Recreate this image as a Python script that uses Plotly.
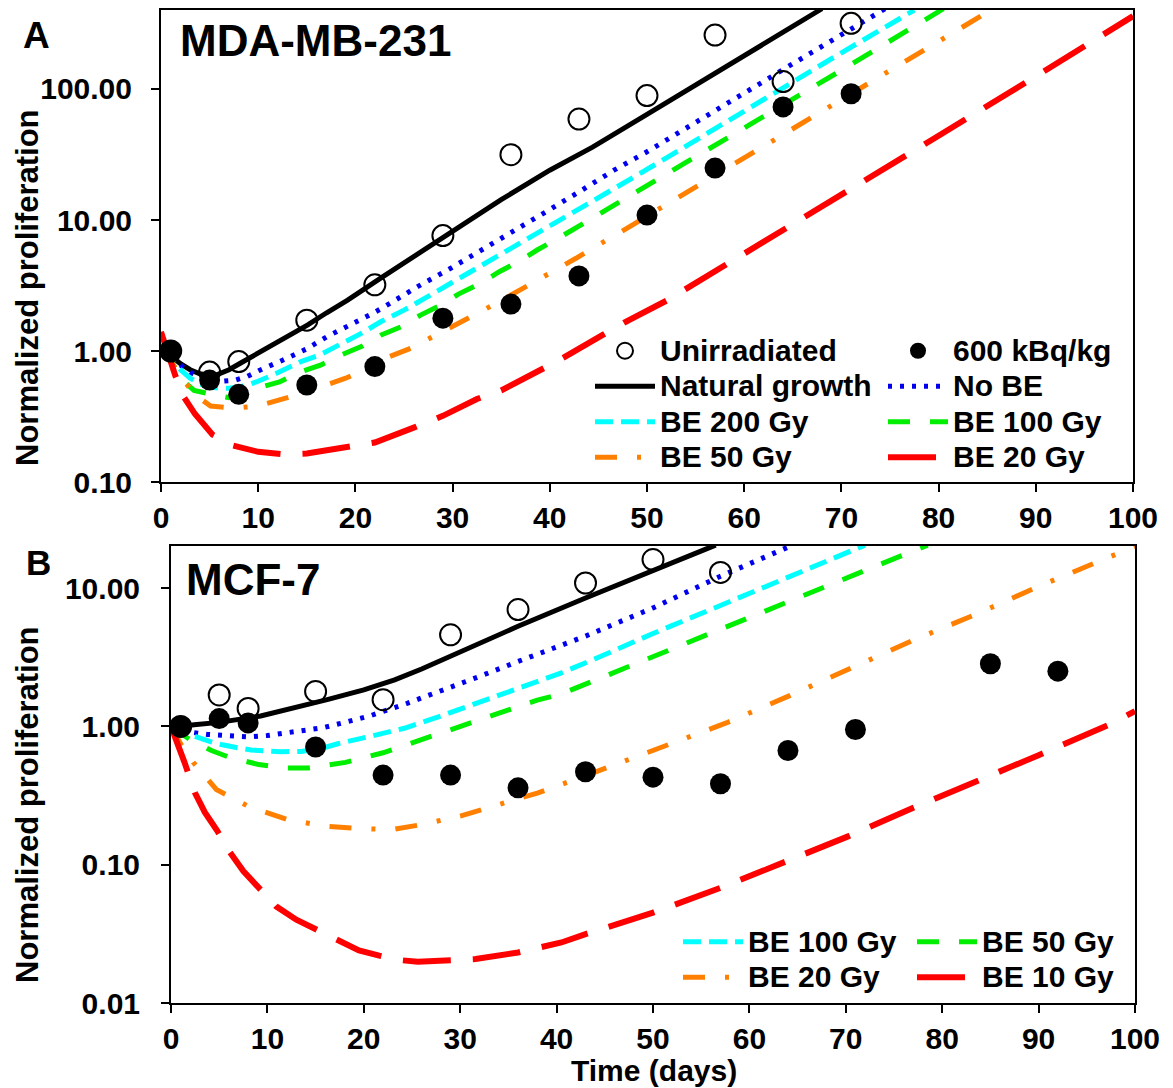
import plotly.graph_objects as go

# ---------------- Panel A (MDA-MB-231) ----------------
a_obs_days = [1, 5, 8, 15, 22, 29, 36, 43, 50, 57, 64, 71]
a_unirradiated = [1.0, 0.69, 0.83, 1.72, 3.2, 7.6, 31.5, 59, 89, 258, 114, 317]
a_600kbq = [1.0, 0.60, 0.467, 0.55, 0.76, 1.78, 2.28, 3.74, 10.9, 24.9, 73, 92]

a_nat_x = [0, 1, 2, 3, 4, 5, 5.8, 7, 8.2, 10, 12.5, 15.1, 17, 19.2, 22.6, 25, 29.1, 35, 40, 44.4, 50, 55, 60, 65, 68]
a_nat_y = [1.0, 0.92, 0.8, 0.72, 0.67, 0.65, 0.66, 0.72, 0.81, 0.96, 1.22, 1.58, 1.95, 2.45, 3.6, 4.7, 7.5, 14.3, 24, 36, 64, 107, 179, 300, 410]

a_nobe_x = [0, 1, 2, 3, 4, 5, 6, 7, 7.7, 8.9, 10.1, 12.5, 14.9, 17.1, 19.5, 21.8, 23, 26.4, 29.8, 33.2, 36.5, 39.9, 43.3, 46.6, 50, 55, 60, 65, 70, 74.5]
a_nobe_y = [1.0, 0.9, 0.78, 0.69, 0.63, 0.6, 0.585, 0.59, 0.6, 0.64, 0.71, 0.85, 1.03, 1.29, 1.58, 1.94, 2.18, 3.1, 4.28, 6.0, 8.5, 11.9, 16.9, 24, 33.2, 55, 93, 156, 260, 410]

a_be200_x = [0, 1, 2, 3, 4, 5, 6, 7, 8.5, 9.8, 11.6, 14.4, 16.3, 18.5, 20.5, 22.6, 25, 28, 31, 34, 37, 40, 43, 46, 49, 52.7, 60, 70, 77.5]
a_be200_y = [1.0, 0.88, 0.72, 0.62, 0.56, 0.53, 0.52, 0.52, 0.54, 0.58, 0.66, 0.83, 0.93, 1.13, 1.35, 1.67, 2.05, 2.75, 3.7, 4.95, 6.6, 8.9, 12, 16.3, 22, 32, 68, 189, 400]

a_be100_x = [0, 1, 2.2, 3.4, 5.6, 7, 8.5, 9.9, 12.2, 14.4, 16.4, 18.5, 20.6, 22.6, 24.7, 26.7, 28.8, 30.6, 32.9, 34.8, 36.8, 38.7, 40.8, 42.9, 44.7, 46.8, 48.8, 50.7, 52.7, 60, 70, 80.5]
a_be100_y = [1.0, 0.85, 0.6, 0.5, 0.46, 0.44, 0.47, 0.52, 0.58, 0.695, 0.78, 0.93, 1.08, 1.32, 1.53, 1.88, 2.24, 2.72, 3.29, 4.03, 4.81, 5.9, 7.2, 8.9, 10.6, 13.4, 16, 19.6, 23.8, 50, 139, 410]

a_be50_x = [0, 1, 1.8, 3.3, 5.1, 7.6, 9.9, 12.2, 14.6, 17, 19, 21.4, 23.4, 25.7, 27.8, 30.1, 32.1, 34.3, 36.3, 38.4, 40.5, 42.7, 44.5, 46.8, 52.9, 60, 70, 80, 85.5]
a_be50_y = [1.0, 0.83, 0.69, 0.475, 0.38, 0.366, 0.38, 0.42, 0.475, 0.55, 0.62, 0.74, 0.9, 1.05, 1.27, 1.53, 1.83, 2.27, 2.75, 3.35, 4.1, 5.1, 6.15, 7.7, 14.4, 29.5, 83, 231, 405]

a_be20_x = [0, 0.8, 1.5, 2.4, 3.5, 5.3, 7.4, 10, 12.5, 15, 19, 22, 26, 29, 32.5, 35, 39.4, 41.3, 45.4, 48, 52, 60, 70, 80, 90, 100]
a_be20_y = [1.4, 0.9, 0.64, 0.44, 0.33, 0.23, 0.19, 0.17, 0.163, 0.165, 0.185, 0.2, 0.26, 0.32, 0.43, 0.5, 0.74, 0.88, 1.32, 1.7, 2.42, 5.5, 15.6, 44, 125, 360]

# ---------------- Panel B (MCF-7) ----------------
b_unirr_days = [1, 5, 8, 15, 22, 29, 36, 43, 50, 57]
b_unirradiated = [1.0, 1.69, 1.35, 1.79, 1.56, 4.6, 7.0, 10.9, 16.1, 13.0]
b_600_days = [1, 5, 8, 15, 22, 29, 36, 43, 50, 57, 64, 71, 85, 92]
b_600kbq = [1.0, 1.14, 1.06, 0.71, 0.445, 0.445, 0.36, 0.47, 0.43, 0.385, 0.67, 0.95, 2.84, 2.51]

b_nat_x = [0, 1, 2.4, 5, 9.3, 12, 16.3, 20, 23.2, 26, 29.1, 36, 43, 50, 56.5]
b_nat_y = [1.0, 1.0, 1.03, 1.07, 1.19, 1.32, 1.57, 1.84, 2.17, 2.6, 3.25, 5.3, 8.5, 13.4, 20.5]

b_nobe_x = [0, 1, 2, 3.8, 6, 8, 10, 11.6, 13.5, 15.8, 18, 20.6, 24.5, 28.3, 32, 36, 40.5, 43, 50, 57, 64.5]
b_nobe_y = [1.0, 0.95, 0.91, 0.875, 0.85, 0.84, 0.86, 0.89, 0.93, 0.98, 1.07, 1.19, 1.47, 1.83, 2.3, 2.95, 3.9, 4.5, 7.2, 12.2, 20.5]

b_be100_x = [0, 1, 2.4, 4, 5.2, 7, 8.3, 11.4, 13.5, 15.5, 17.3, 20.4, 24.2, 28, 32, 36, 40.5, 44.3, 50, 57, 64, 72]
b_be100_y = [1.0, 0.93, 0.85, 0.78, 0.74, 0.7, 0.675, 0.656, 0.66, 0.69, 0.75, 0.84, 0.97, 1.19, 1.5, 1.9, 2.44, 3.15, 4.7, 7.5, 12.0, 20.5]

b_be50_x = [0, 1, 2, 4.2, 6, 9.1, 12, 14.2, 18.1, 22, 26, 30, 34, 38, 40.5, 44.3, 50, 57, 64, 71, 78.5]
b_be50_y = [1.0, 0.9, 0.8, 0.67, 0.6, 0.53, 0.5, 0.5, 0.55, 0.645, 0.8, 1.0, 1.25, 1.55, 1.72, 2.2, 3.2, 5.0, 7.9, 12.5, 20.5]

b_be20_x = [0, 1, 2.3, 4.7, 8, 12, 16, 20, 23, 26, 30, 34, 38, 43, 50, 57.6, 64, 70.7, 77, 84, 90, 97.5, 100]
b_be20_y = [1.0, 0.75, 0.55, 0.35, 0.265, 0.213, 0.19, 0.182, 0.18, 0.195, 0.225, 0.27, 0.33, 0.44, 0.67, 1.06, 1.65, 2.66, 4.2, 6.7, 10.3, 17, 20]

b_be10_x = [0, 0.7, 1.4, 2.5, 3.5, 4.8, 6, 7.5, 9.1, 10.9, 13, 15, 17.3, 19.5, 21.6, 23.5, 25.6, 28.8, 31.6, 36, 40.5, 43, 50, 57, 63.6, 70.3, 77, 84, 90, 97.3, 100]
b_be10_y = [1.0, 0.75, 0.55, 0.33, 0.24, 0.176, 0.126, 0.09, 0.068, 0.05, 0.04, 0.034, 0.028, 0.024, 0.022, 0.0205, 0.0199, 0.0202, 0.0208, 0.0232, 0.0274, 0.0315, 0.045, 0.068, 0.104, 0.161, 0.258, 0.41, 0.62, 1.03, 1.29]

x_ticks = [0, 10, 20, 30, 40, 50, 60, 70, 80, 90, 100]
a_y_ticks = [0.1, 1, 10, 100]
a_y_ticktext = ["0.10", "1.00", "10.00", "100.00"]
b_y_ticks = [0.01, 0.1, 1, 10]
b_y_ticktext = ["0.01", "0.10", "1.00", "10.00"]

FONT = "Liberation Sans, Arial, sans-serif"

# The page body has an 8px margin: lay out in target-pixel terms and shift by it.
OFF = 8
W, H = 1165, 1080


def px_x(tx):
    return (tx - OFF) / W


def px_y(ty):
    return 1 - (ty - OFF) / H


# styles
S_BLACK = dict(color="black", width=5, dash="solid")
S_BLUE = dict(color="#0000ee", width=5, dash="4px,8px")
S_CYAN = dict(color="#00ffff", width=5, dash="18px,8px")
S_GREEN = dict(color="#00ee00", width=5, dash="22px,20px")
S_ORANGE = dict(color="#ff8000", width=5, dash="22px,20px,4px,20px")
S_RED = dict(color="#ff0000", width=6, dash="48px,22px")

fig = go.Figure()


def lbl(name):
    return '<span style="font-size:30px">' + name + '</span>'


def line(x, y, name, style, xa, ya, legend=None, rank=None):
    fig.add_trace(go.Scatter(
        x=x, y=y, mode="lines", name=lbl(name), line=style,
        xaxis=xa, yaxis=ya, showlegend=legend is not None,
        legend=legend if legend else "legend", legendrank=rank if rank else 1000,
        hoverinfo="skip"))


def pts(x, y, name, filled, xa, ya, legend=None, rank=None):
    if filled:
        marker = dict(symbol="circle", size=21, color="black")
    else:
        marker = dict(symbol="circle-open", size=21, color="black", line=dict(width=2, color="black"))
    fig.add_trace(go.Scatter(
        x=x, y=y, mode="markers", name=lbl(name), marker=marker,
        xaxis=xa, yaxis=ya, showlegend=legend is not None,
        legend=legend if legend else "legend", legendrank=rank if rank else 1000,
        hoverinfo="skip"))


# Panel A traces
line(a_nat_x, a_nat_y, "Natural growth", S_BLACK, "x", "y", "legend", 2)
line(a_nobe_x, a_nobe_y, "No BE", S_BLUE, "x", "y", "legend2", 2)
line(a_be200_x, a_be200_y, "BE 200 Gy", S_CYAN, "x", "y", "legend", 3)
line(a_be100_x, a_be100_y, "BE 100 Gy", S_GREEN, "x", "y", "legend2", 3)
line(a_be50_x, a_be50_y, "BE 50 Gy", S_ORANGE, "x", "y", "legend", 4)
line(a_be20_x, a_be20_y, "BE 20 Gy", S_RED, "x", "y", "legend2", 4)
pts(a_obs_days, a_unirradiated, "Unirradiated", False, "x", "y", "legend", 1)
pts(a_obs_days, a_600kbq, "600 kBq/kg", True, "x", "y", "legend2", 1)

# Panel B traces
line(b_nat_x, b_nat_y, "Natural growth", S_BLACK, "x2", "y2")
line(b_nobe_x, b_nobe_y, "No BE", S_BLUE, "x2", "y2")
line(b_be100_x, b_be100_y, "BE 100 Gy", S_CYAN, "x2", "y2", "legend3", 1)
line(b_be50_x, b_be50_y, "BE 50 Gy", S_GREEN, "x2", "y2", "legend4", 1)
line(b_be20_x, b_be20_y, "BE 20 Gy", S_ORANGE, "x2", "y2", "legend3", 2)
line(b_be10_x, b_be10_y, "BE 10 Gy", S_RED, "x2", "y2", "legend4", 2)
pts(b_unirr_days, b_unirradiated, "Unirradiated", False, "x2", "y2")
pts(b_600_days, b_600kbq, "600 kBq/kg", True, "x2", "y2")

tickfont = dict(family=FONT, size=30, color="black", weight="bold")

axis_common = dict(showline=True, linecolor="black", linewidth=2, mirror=True,
                   ticks="outside", ticklen=8, tickwidth=2, tickcolor="black",
                   showgrid=False, zeroline=False, tickfont=tickfont, automargin=False)

fig.update_layout(
    width=W, height=H, autosize=False,
    margin=dict(l=0, r=0, t=0, b=0),
    paper_bgcolor="white", plot_bgcolor="white",
    font=dict(family=FONT, color="black", weight="bold"),
    xaxis=dict(domain=[px_x(161), px_x(1133)], range=[0, 100], tickvals=x_ticks, anchor="y",
               ticklabelstandoff=0, **axis_common),
    yaxis=dict(domain=[px_y(482), px_y(10)], type="log", range=[-1, 2.603], anchor="x",
               tickvals=a_y_ticks, ticktext=a_y_ticktext, ticklabelstandoff=13, **axis_common),
    xaxis2=dict(domain=[px_x(171), px_x(1135)], range=[0, 100], tickvals=x_ticks, anchor="y2",
                ticklabelstandoff=0, **axis_common),
    yaxis2=dict(domain=[px_y(1003), px_y(546)], type="log", range=[-2, 1.305], anchor="x2",
                tickvals=b_y_ticks, ticktext=b_y_ticktext, ticklabelstandoff=15, **axis_common),
    showlegend=True,
)

legend_common = dict(xanchor="left", yanchor="top", bgcolor="rgba(0,0,0,0)", borderwidth=0,
                     font=dict(family=FONT, size=25, color="black", weight="bold"),
                     itemwidth=60, tracegroupgap=0, traceorder="normal", orientation="v",
                     itemclick=False, itemdoubleclick=False)
fig.update_layout(
    legend=dict(x=px_x(590), y=px_y(328), **legend_common),
    legend2=dict(x=px_x(883), y=px_y(328), **legend_common),
    legend3=dict(x=px_x(678), y=px_y(919), **legend_common),
    legend4=dict(x=px_x(912), y=px_y(919), **legend_common),
)


def ann(text, x, y, size, xanchor="center", angle=0):
    fig.add_annotation(text=text, x=px_x(x), y=px_y(y), xref="paper", yref="paper",
                       showarrow=False, xanchor=xanchor, yanchor="middle", textangle=angle,
                       font=dict(family=FONT, size=size, color="black", weight="bold"))


ann("A", 36, 36, 37)
ann("B", 38, 562, 35)
ann("MDA-MB-231", 178, 40, 44, xanchor="left")
ann("MCF-7", 184, 579, 44, xanchor="left")
ann("Normalized proliferation", 27, 288, 31, angle=-90)
ann("Normalized proliferation", 27, 805, 31, angle=-90)
ann("Time (days)", 654, 1070, 30)

fig.write_html("out.html")
